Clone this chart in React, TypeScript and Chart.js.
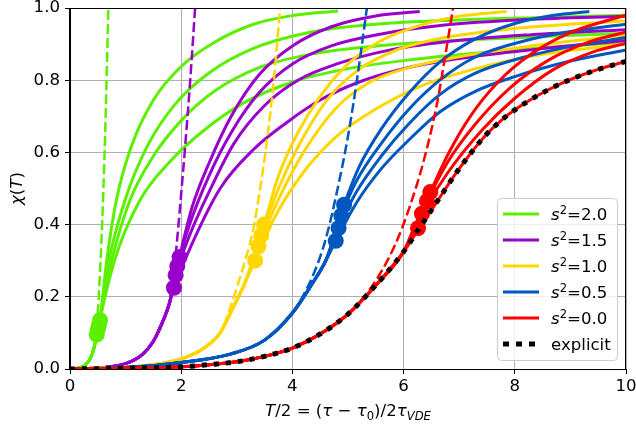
import React, { useEffect, useRef } from 'react';
import { Chart, registerables } from 'chart.js';

Chart.register(...registerables);

// ---------------- data ----------------
const xTicks = [0, 2, 4, 6, 8, 10];
const yTicks = [0, 0.2, 0.4, 0.6, 0.8, 1.0];
const legendValues = ['2.0', '1.5', '1.0', '0.5', '0.0'];
const explicitLabel = 'explicit';

const explicitCurve = [[0,0],[1,0.002],[2,0.006],[2.5,0.012],[3,0.02],[3.5,0.035],[4,0.058],[4.5,0.097],[5,0.152],[5.5,0.232],[6,0.325],[6.26,0.385],[6.5,0.44],[7,0.555],[7.46,0.645],[7.82,0.697],[8.2,0.738],[8.62,0.775],[9.05,0.805],[9.5,0.83],[10,0.852]];

// s^2 = 2.0
const greenPre = [[0,0],[0.15,0.002],[0.25,0.008],[0.33,0.02],[0.4,0.042],[0.45,0.07]];
const green1 = [[0.54,0.135],[0.66,0.3],[0.84,0.472],[1.1,0.615],[1.5,0.745],[2.0,0.838],[2.6,0.905],[3.3,0.955],[4.0,0.979],[4.82,0.992]];
const green2 = [[0.52,0.122],[0.7,0.3],[0.99,0.468],[1.4,0.62],[1.9,0.735],[2.5,0.82],[3.3,0.888],[4.3,0.932],[5.5,0.955],[7.0,0.967],[8.5,0.974],[10,0.98]];
const green3 = [[0.5,0.11],[0.75,0.3],[1.08,0.468],[1.5,0.59],[2.0,0.688],[2.6,0.77],[3.4,0.835],[4.4,0.874],[5.6,0.896],[7.2,0.912],[8.6,0.922],[10,0.93]];
const green4 = [[0.48,0.095],[0.8,0.3],[1.26,0.468],[1.8,0.575],[2.4,0.66],[3.1,0.735],[4.0,0.795],[5.0,0.832],[6.2,0.858],[7.6,0.879],[10,0.905]];
const greenDash = [[0,0],[0.15,0.002],[0.25,0.008],[0.33,0.02],[0.4,0.042],[0.45,0.072],[0.5,0.16],[0.57,0.37],[0.63,0.64],[0.69,1.0]];
const greenDots = [[0.48,0.095],[0.5,0.11],[0.52,0.122],[0.54,0.135]];

// s^2 = 1.5
const purplePre = [[0,0],[0.6,0.004],[1.0,0.015],[1.3,0.04],[1.5,0.077],[1.65,0.125],[1.78,0.178]];
const purple1 = [[1.97,0.31],[2.2,0.45],[2.5,0.57],[2.9,0.7],[3.4,0.815],[4.0,0.895],[4.7,0.948],[5.5,0.978],[6.29,0.99]];
const purple2 = [[1.93,0.285],[2.15,0.4],[2.5,0.535],[2.9,0.655],[3.4,0.765],[4.0,0.845],[4.7,0.895],[5.6,0.928],[6.7,0.952],[8.2,0.968],[10,0.977]];
const purple3 = [[1.9,0.26],[2.15,0.37],[2.5,0.49],[2.95,0.625],[3.5,0.73],[4.1,0.8],[4.8,0.845],[5.7,0.882],[6.8,0.907],[8.3,0.926],[10,0.94]];
const purple4 = [[1.87,0.225],[2.16,0.335],[2.7,0.5],[3.3,0.608],[3.9,0.683],[4.5,0.745],[5.2,0.795],[6.0,0.832],[7.0,0.86],[8.4,0.886],[10,0.91]];
const purpleDash = [[0,0],[0.6,0.004],[1.0,0.015],[1.3,0.04],[1.5,0.077],[1.65,0.125],[1.78,0.178],[1.84,0.235],[1.9,0.315],[1.98,0.45],[2.07,0.615],[2.16,0.795],[2.25,1.0]];
const purpleDots = [[1.87,0.225],[1.9,0.26],[1.93,0.285],[1.97,0.31]];

// s^2 = 1.0
const yellowPre = [[0,0],[1.0,0.005],[1.6,0.014],[2.0,0.028],[2.4,0.057],[2.7,0.1],[2.95,0.175],[3.15,0.24]];
const yellow1 = [[3.49,0.4],[3.75,0.535],[4.1,0.655],[4.5,0.755],[5.0,0.845],[5.6,0.91],[6.3,0.952],[7.0,0.977],[7.85,0.99]];
const yellow2 = [[3.44,0.37],[3.75,0.5],[4.1,0.615],[4.62,0.745],[5.2,0.83],[5.9,0.885],[6.7,0.917],[7.8,0.94],[10,0.965]];
const yellow3 = [[3.39,0.34],[3.75,0.47],[4.2,0.6],[4.8,0.725],[5.4,0.795],[6.1,0.835],[6.9,0.862],[8.2,0.893],[10,0.925]];
const yellow4 = [[3.33,0.3],[3.7,0.425],[4.2,0.545],[4.8,0.645],[5.5,0.72],[6.3,0.783],[7.3,0.832],[8.5,0.872],[10,0.9]];
const yellowDash = [[0,0],[1.0,0.005],[1.6,0.014],[2.0,0.028],[2.4,0.057],[2.7,0.1],[2.85,0.155],[3.0,0.225],[3.15,0.3],[3.3,0.39],[3.42,0.5],[3.54,0.63],[3.66,0.79],[3.78,1.0]];
const yellowDots = [[3.33,0.3],[3.39,0.34],[3.44,0.37],[3.49,0.4]];

// s^2 = 0.5
const bluePre = [[0,0],[1.0,0.004],[2.0,0.018],[2.9,0.042],[3.5,0.08],[4.0,0.155],[4.35,0.235],[4.6,0.3]];
const blue1 = [[4.93,0.455],[5.2,0.56],[5.6,0.665],[6.1,0.765],[6.65,0.85],[7.3,0.915],[8.0,0.957],[8.7,0.98],[9.34,0.99]];
const blue2 = [[4.88,0.425],[5.15,0.52],[5.6,0.625],[6.1,0.72],[6.65,0.8],[7.3,0.865],[8.2,0.91],[9.0,0.935],[10,0.955]];
const blue3 = [[4.83,0.39],[5.15,0.49],[5.6,0.59],[6.1,0.68],[6.65,0.76],[7.3,0.82],[8.2,0.865],[9.0,0.893],[10,0.918]];
const blue4 = [[4.78,0.355],[5.15,0.46],[5.6,0.555],[6.1,0.635],[6.65,0.712],[7.3,0.77],[8.0,0.81],[9.0,0.853],[10,0.884]];
const blueDash = [[0,0],[1.0,0.004],[2.0,0.018],[2.9,0.042],[3.5,0.08],[4.0,0.155],[4.2,0.205],[4.4,0.27],[4.6,0.36],[4.8,0.49],[5.0,0.645],[5.17,0.81],[5.34,1.0]];
const blueDots = [[4.78,0.355],[4.83,0.39],[4.88,0.425],[4.93,0.455]];

// s^2 = 0.0
const red1 = [[6.2,0.395],[6.48,0.49],[6.8,0.595],[7.2,0.7],[7.7,0.795],[8.3,0.873],[9.0,0.932],[10,0.98]];
const red2 = [[6.2,0.39],[6.42,0.465],[6.8,0.575],[7.3,0.68],[7.9,0.777],[8.6,0.855],[9.3,0.904],[10,0.934]];
const red3 = [[6.15,0.375],[6.33,0.43],[6.8,0.545],[7.4,0.66],[8.0,0.75],[8.7,0.83],[9.4,0.878],[10,0.902]];
const redDash = [[0,0],[1,0.002],[2,0.006],[2.5,0.012],[3,0.02],[3.5,0.035],[4,0.058],[4.5,0.097],[5,0.152],[5.5,0.245],[5.85,0.345],[6.1,0.445],[6.35,0.57],[6.6,0.735],[6.89,1.0]];
const redDots = [[6.26,0.39],[6.33,0.43],[6.42,0.465],[6.48,0.49]];

// ---------------- styling ----------------
const GREEN = '#5cf000';
const PURPLE = '#9900cc';
const YELLOW = '#ffd700';
const BLUE = '#0057c0';
const RED = '#ff0000';
const FONT = '"DejaVu Sans", sans-serif';
const FS = 16.6;

const redPre = explicitCurve.filter((p) => p[0] <= 6);
const redTail = explicitCurve.filter((p) => p[0] > 6);

const groups = [
  { color: GREEN, pre: greenPre, curves: [green1, green2, green3, green4], dash: greenDash, dots: greenDots },
  { color: PURPLE, pre: purplePre, curves: [purple1, purple2, purple3, purple4], dash: purpleDash, dots: purpleDots },
  { color: YELLOW, pre: yellowPre, curves: [yellow1, yellow2, yellow3, yellow4], dash: yellowDash, dots: yellowDots },
  { color: BLUE, pre: bluePre, curves: [blue1, blue2, blue3, blue4], dash: blueDash, dots: blueDots },
  { color: RED, pre: redPre, curves: [red1, red2, red3, redTail], dash: redDash, dots: redDots },
];

const toXY = (a: number[][]) => a.map(([x, y]) => ({ x, y }));

function buildDatasets() {
  const ds: any[] = [];
  groups.forEach((g) => {
    g.curves.forEach((c) => {
      ds.push({
        data: toXY([...g.pre, ...c]),
        borderColor: g.color,
        borderWidth: 3,
        pointRadius: 0,
        fill: false,
        cubicInterpolationMode: 'monotone',
        clip: 0,
      });
    });
    ds.push({
      data: toXY(g.dash),
      borderColor: g.color,
      borderWidth: 2.5,
      borderDash: [10, 4],
      pointRadius: 0,
      fill: false,
      cubicInterpolationMode: 'monotone',
      clip: 0,
    });
    ds.push({
      data: toXY(g.dots),
      showLine: false,
      pointRadius: 8,
      pointBackgroundColor: g.color,
      pointBorderWidth: 0,
      borderColor: g.color,
      clip: 0,
    });
  });
  ds.push({
    data: toXY(explicitCurve),
    borderColor: '#000',
    borderWidth: 5,
    borderDash: [5, 7],
    borderCapStyle: 'butt',
    pointRadius: 0,
    fill: false,
    cubicInterpolationMode: 'monotone',
    clip: 0,
  });
  ds.forEach((d, i) => { d.order = ds.length - i; });
  return ds;
}

type Run = { t: string; it?: boolean; sub?: boolean; sup?: boolean };
function runFont(r: Run, fs: number) {
  const size = r.sub || r.sup ? fs * 0.7 : fs;
  return `${r.it ? 'italic ' : ''}${size}px ${FONT}`;
}
function runsWidth(ctx: CanvasRenderingContext2D, runs: Run[], fs: number) {
  let w = 0;
  for (const r of runs) { ctx.font = runFont(r, fs); w += ctx.measureText(r.t).width; }
  return w;
}
function drawRuns(ctx: CanvasRenderingContext2D, runs: Run[], x: number, y: number, fs: number) {
  let cx = x;
  for (const r of runs) {
    ctx.font = runFont(r, fs);
    const dy = r.sub ? fs * 0.22 : r.sup ? -fs * 0.38 : 0;
    ctx.fillText(r.t, cx, y + dy);
    cx += ctx.measureText(r.t).width;
  }
}

const xLabelRuns: Run[] = [
  { t: 'T', it: true }, { t: '/2 = (' }, { t: 'τ', it: true }, { t: ' − ' }, { t: 'τ', it: true },
  { t: '0', sub: true }, { t: ')/2' }, { t: 'τ', it: true }, { t: 'VDE', it: true, sub: true },
];
const yLabelRuns: Run[] = [{ t: 'χ', it: true }, { t: '(' }, { t: 'T', it: true }, { t: ')' }];

const decor = {
  id: 'decor',
  afterDatasetsDraw(chart: any) {
    const { ctx, chartArea: a } = chart;
    ctx.save();
    ctx.strokeStyle = '#000';
    ctx.lineWidth = 1;
    ctx.setLineDash([]);
    ctx.strokeRect(Math.round(a.left) - 0.5, Math.round(a.top) + 0.5, Math.round(a.right) - Math.round(a.left), Math.round(a.bottom) - Math.round(a.top));
    ctx.restore();
  },
  afterDraw(chart: any) {
    const { ctx, chartArea: a } = chart;
    ctx.save();
    ctx.fillStyle = '#000';
    ctx.textBaseline = 'alphabetic';
    const wx = runsWidth(ctx, xLabelRuns, FS);
    drawRuns(ctx, xLabelRuns, (a.left + a.right) / 2 - wx / 2, 416, FS);
    ctx.save();
    ctx.translate(22, (a.top + a.bottom) / 2);
    ctx.rotate(-Math.PI / 2);
    const wy = runsWidth(ctx, yLabelRuns, FS);
    drawRuns(ctx, yLabelRuns, -wy / 2, 0, FS);
    ctx.restore();

    const lx = 497.5, ly = 198.5, lw = 120, lh = 162, r = 4;
    ctx.beginPath();
    ctx.moveTo(lx + r, ly);
    ctx.arcTo(lx + lw, ly, lx + lw, ly + lh, r);
    ctx.arcTo(lx + lw, ly + lh, lx, ly + lh, r);
    ctx.arcTo(lx, ly + lh, lx, ly, r);
    ctx.arcTo(lx, ly, lx + lw, ly, r);
    ctx.closePath();
    ctx.fillStyle = 'rgba(255,255,255,0.8)';
    ctx.fill();
    ctx.strokeStyle = '#cccccc';
    ctx.lineWidth = 1;
    ctx.stroke();

    const colors = [GREEN, PURPLE, YELLOW, BLUE, RED];
    for (let i = 0; i < 6; i++) {
      const cy = 214 + i * 26;
      ctx.beginPath();
      ctx.moveTo(503, cy);
      ctx.lineTo(539, cy);
      if (i < 5) {
        ctx.strokeStyle = colors[i];
        ctx.lineWidth = 3;
        ctx.setLineDash([]);
      } else {
        ctx.strokeStyle = '#000';
        ctx.lineWidth = 5;
        ctx.setLineDash([6, 7]);
      }
      ctx.lineCap = 'butt';
      ctx.stroke();
      ctx.setLineDash([]);
      ctx.fillStyle = '#000';
      const base = cy + 6;
      if (i < 5) {
        drawRuns(ctx, [{ t: 's', it: true }, { t: '2', sup: true }, { t: '=' + legendValues[i] }], 551, base, FS);
      } else {
        drawRuns(ctx, [{ t: explicitLabel }], 551, base, FS);
      }
    }
    ctx.restore();
  },
};

export default function App() {
  const ref = useRef<HTMLCanvasElement>(null);
  useEffect(() => {
    const tickFont = { family: FONT, size: FS, lineHeight: 1.0 };
    const chart = new Chart(ref.current as HTMLCanvasElement, {
      type: 'line',
      data: { datasets: buildDatasets() },
      options: {
        animation: false,
        responsive: false,
        devicePixelRatio: 1,
        events: [],
        layout: { padding: { top: 8, right: 10, left: 0, bottom: 0 } },
        plugins: { legend: { display: false }, tooltip: { enabled: false } },
        scales: {
          x: {
            type: 'linear',
            min: 0,
            max: 10,
            afterBuildTicks: (s: any) => { s.ticks = xTicks.map((v) => ({ value: v })); },
            afterFit: (s: any) => { s.height = 57; s.paddingLeft = 0; s.paddingRight = 0; },
            ticks: { font: tickFont, color: '#000', padding: 4, maxRotation: 0, autoSkip: false, callback: (v: any) => String(v) },
            grid: { color: '#b0b0b0', lineWidth: 1, tickColor: '#000', tickLength: 5, tickWidth: 1 },
            border: { color: '#000', width: 1 },
          },
          y: {
            type: 'linear',
            min: 0,
            max: 1,
            afterBuildTicks: (s: any) => { s.ticks = yTicks.map((v) => ({ value: v })); },
            afterFit: (s: any) => { s.width = 70; s.paddingTop = 0; s.paddingBottom = 0; },
            ticks: { font: tickFont, color: '#000', padding: 5, autoSkip: false, callback: (v: any) => Number(v).toFixed(1) },
            grid: { color: '#b0b0b0', lineWidth: 1, tickColor: '#000', tickLength: 5, tickWidth: 1 },
            border: { color: '#000', width: 1 },
          },
        },
      } as any,
      plugins: [decor],
    });
    return () => chart.destroy();
  }, []);
  return (
    <div style={{ position: 'fixed', left: 0, top: 0, width: 636, height: 426, background: '#fff' }}>
      <canvas ref={ref} width={636} height={426} style={{ display: 'block', width: 636, height: 426 }} />
    </div>
  );
}
